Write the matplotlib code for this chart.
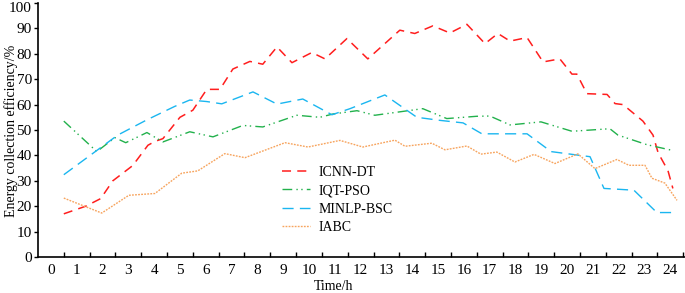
import matplotlib
matplotlib.use("Agg")
import matplotlib.pyplot as plt
from matplotlib.ticker import FixedLocator, NullFormatter
from matplotlib.transforms import ScaledTranslation

plt.rcParams['font.family'] = ['Liberation Serif', 'DejaVu Serif']
plt.rcParams['lines.scale_dashes'] = False

# ---- data (time in h, efficiency in %) ----
icnn_t = [0.5, 1.35, 1.93, 2.4, 3.17, 3.76, 4.03, 4.34, 5.0, 5.5, 6.04, 6.55, 7.05, 7.71, 8.21,
          8.76, 9.34, 10.11, 10.62, 11.47, 12.28, 13.52, 14.1, 14.8, 15.46, 16.12, 16.82, 17.32,
          17.79, 18.45, 19.07, 19.72, 20.19, 20.38, 20.77, 21.55, 21.86, 22.17, 22.94, 23.33,
          23.53, 23.91, 24.1]
icnn_v = [17, 20, 23, 30, 36, 44, 45.5, 46.6, 55, 57.8, 66, 66, 74, 77, 75.9,
          82.7, 76.5, 80.5, 78, 86, 78, 89.3, 88, 91, 88.2, 91.6, 84, 88,
          85, 86.4, 76.8, 78, 72, 72, 64.3, 64, 60.4, 60, 53.5, 48,
          41, 34, 27]

iqt_t = [0.5, 1.78, 2.48, 2.9, 3.72, 4.34, 5.38, 6.28, 7.44, 8.21, 9.53, 10.42, 10.93, 11.86,
         12.55, 13.41, 14.41, 15.34, 16.5, 17.01, 17.79, 18.99, 20.19, 21.66, 21.97, 23.1, 24.07]
iqt_v = [53.5, 41.5, 47, 45, 49, 45.3, 49.3, 47.3, 51.8, 51.2, 55.8, 55, 56.3, 57.6,
         55.8, 57, 58.4, 54.5, 55.4, 55.5, 52, 53.2, 49.5, 50.5, 48, 44.2, 42]

minlp_t = [0.5, 2.59, 3.72, 4.8, 5.38, 6.04, 6.62, 7.83, 8.76, 9.76, 10.89, 11.59, 12.94, 14.18,
           15.07, 15.97, 16.7, 18.45, 19.38, 20.5, 20.89, 21.43, 22.59, 23.48, 24.1]
minlp_v = [32.4, 48, 54, 59.3, 61.8, 61.2, 60.3, 65, 60.2, 62.2, 56, 58.4, 63.8, 55,
           53.8, 52.8, 48.5, 48.5, 41.5, 40, 39.5, 27, 26.3, 17.5, 17.5]

iabc_t = [0.5, 1.97, 3.02, 4.03, 5.07, 5.69, 6.74, 7.52, 9.07, 9.96, 11.2, 12.09, 13.33, 13.72,
          14.76, 15.27, 16.12, 16.66, 17.28, 17.98, 18.72, 19.53, 20.42, 21.08, 21.93, 22.4,
          23.02, 23.29, 23.79, 24.26]
iabc_v = [23.2, 17.3, 24.3, 25, 33, 33.9, 40.7, 39.1, 45, 43.3, 45.9, 43.3, 46, 43.6,
          44.8, 42.2, 43.7, 40.5, 41.3, 37.4, 40.4, 36.8, 40.6, 34.8, 38.4, 36.1,
          36.1, 31, 29.1, 22.3]

hour_labels = [str(h) for h in range(25)]
y_ticks = list(range(0, 101, 10))

W, H = 685, 293
fig = plt.figure(figsize=(W / 100, H / 100), dpi=100)
ax = fig.add_axes([38 / W, (H - 257) / H, 647 / W, 254 / H])

ax.plot(icnn_t, icnn_v, color='#FF1E1E', lw=1.1, linestyle=(0, (6.5, 4.5)), label='ICNN-DT')
ax.plot(iqt_t, iqt_v, color='#22B14C', lw=1.0, linestyle=(0, (7, 3, 1, 2.5, 1, 3)), label='IQT-PSO')
ax.plot(minlp_t, minlp_v, color='#1AB6F0', lw=1.0, linestyle=(0, (8, 4.5)), label='MINLP-BSC')
ax.plot(iabc_t, iabc_v, color='#F7A45E', lw=1.0, linestyle=(0, (1.3, 0.9)), label='IABC')

ax.set_xlim(-0.5, 24.57)
ax.set_ylim(0, 100)

ax.xaxis.set_major_locator(FixedLocator(list(range(25))))
ax.set_xticklabels(hour_labels)
ax.xaxis.set_minor_locator(FixedLocator([h + 0.5 for h in range(25)]))
ax.xaxis.set_minor_formatter(NullFormatter())
ax.tick_params(axis='x', which='major', length=0, pad=5, labelsize=11)
ax.tick_params(axis='x', which='minor', direction='in', length=3.5, width=1.0)
ax.set_yticks(y_ticks)
ax.tick_params(axis='y', direction='out', length=3, width=1.0, pad=1.5, labelsize=11)

# nudge the top label ("100") down so it stays inside the figure
top_tick = ax.yaxis.get_major_ticks()[-1]
top_tick.label1.set_transform(top_tick.label1.get_transform()
                              + ScaledTranslation(0, -3.5 / 100, fig.dpi_scale_trans))

for s in ['top', 'right']:
    ax.spines[s].set_visible(False)
for s in ['left', 'bottom']:
    ax.spines[s].set_linewidth(1.2)

ax.set_xlabel('Time/h', fontsize=10)
ax.xaxis.set_label_coords((334 - 38) / 647, -(287 - 257) / 254, transform=ax.transAxes)
ax.xaxis.label.set_va('center')
ax.set_ylabel('Energy collection efficiency/%', fontsize=10)
ax.yaxis.set_label_coords(-(38 - 11) / 647, (257 - 131) / 254, transform=ax.transAxes)
ax.yaxis.label.set_va('center')

leg = ax.legend(loc='upper left', bbox_to_anchor=(282 / W, 1 - 166 / H),
                bbox_transform=fig.transFigure, frameon=False, fontsize=10,
                handlelength=2.0, handletextpad=0.6, labelspacing=0.38, borderpad=0,
                borderaxespad=0)

fig.savefig('out.png', dpi=100)
